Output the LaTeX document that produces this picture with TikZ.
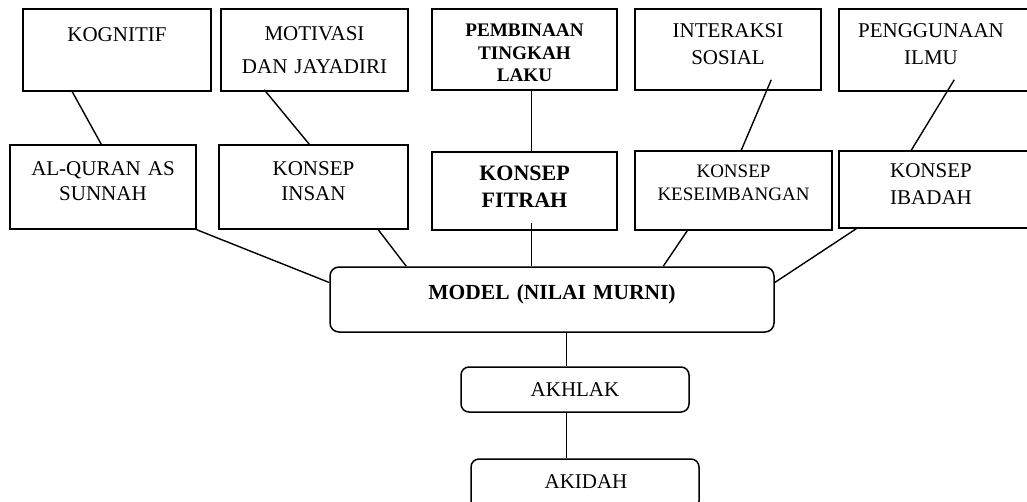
\documentclass[tikz,border=0pt]{standalone}
\usepackage{fontspec}
\setmainfont{Liberation Serif}
\begin{document}
\begin{tikzpicture}[x=1pt,y=-1pt,
  box/.style={draw, line width=1.5pt, inner sep=0pt, anchor=center},
  rbox/.style={box, rounded corners=9pt},
  txt/.style={anchor=base, inner sep=0pt, align=center, text width=190pt},
  reg/.style={font={\fontsize{21}{27}\selectfont}},
  link/.style={line width=1.4pt}]
\useasboundingbox (0,0) rectangle (1027,501);
\clip (0,0) rectangle (1027,501);
% top row
\node[box, minimum width=188pt, minimum height=82pt] (kog) at (117,50) {};
\node[box, minimum width=187pt, minimum height=82pt] (mot) at (314.5,50) {};
\node[box, minimum width=185pt, minimum height=81pt] (pem) at (524.5,49.5) {};
\node[box, minimum width=186pt, minimum height=81pt] (int) at (728,49.5) {};
\node[box, minimum width=196pt, minimum height=82pt] (peng) at (937,50) {};
% second row
\node[box, minimum width=186pt, minimum height=84pt] (alq) at (103,187) {};
\node[box, minimum width=189pt, minimum height=84pt] (ins) at (313.5,187) {};
\node[box, minimum width=185pt, minimum height=78pt] (fit) at (524.5,191) {};
\node[box, minimum width=197pt, minimum height=79pt] (kes) at (733.5,190.5) {};
\node[box, minimum width=196pt, minimum height=77pt] (iba) at (937,189.5) {};
% lower
\node[rbox, minimum width=444pt, minimum height=65pt] (model) at (552,299.5) {};
\node[rbox, rounded corners=8pt, minimum width=228pt, minimum height=45pt] (akh) at (575,389.5) {};
\node[rbox, rounded corners=8pt, minimum width=228pt, minimum height=50pt] (aki) at (585,484) {};
% texts
\node[txt, reg] (kogT) at (117,41) {KOGNITIF};
\node[txt, font={\fontsize{21}{32.6}\selectfont}] (motT) at (314.5,40.5) {MOTIVASI\\DAN JAYADIRI};
\node[txt, font={\fontsize{19.2}{22.5}\selectfont\bfseries}] (pemT) at (524.5,36.5) {PEMBINAAN\\TINGKAH\\LAKU};
\node[txt, reg] (intT) at (728,37) {INTERAKSI\\SOSIAL};
\node[txt, reg] (pengT) at (931,37) {PENGGUNAAN\\ILMU};
\node[txt, font={\fontsize{21}{25}\selectfont}] (alqT) at (103,175) {AL-QURAN AS\\SUNNAH};
\node[txt, font={\fontsize{21}{25}\selectfont}] (insT) at (313.5,175) {KONSEP\\INSAN};
\node[txt, font={\fontsize{22}{27}\selectfont\bfseries}] (fitT) at (524.5,180) {KONSEP\\FITRAH};
\node[txt, font={\fontsize{19}{23}\selectfont}] (kesT) at (733.5,177) {KONSEP\\KESEIMBANGAN};
\node[txt, reg] (ibaT) at (931,177) {KONSEP\\IBADAH};
\node[txt, font={\fontsize{21.5}{26}\selectfont\bfseries}, text width=400pt] (modelT) at (552,299) {MODEL (NILAI MURNI)};
\node[txt, reg] (akhT) at (575,396) {AKHLAK};
\node[txt, reg] (akiT) at (586,488) {AKIDAH};
% connectors
\draw[link] ([xshift=50pt]kog.south west) -- ([xshift=92pt]alq.north west);
\draw[link] ([xshift=44pt,yshift=2pt]mot.south west) -- ([xshift=91pt]ins.north west);
\draw[link] ([xshift=100pt]pem.south west) -- ([xshift=100pt]fit.north west);
\draw[link] ([xshift=137pt,yshift=11pt]int.south west) -- ([xshift=107pt]kes.north west);
\draw[link] ([xshift=116pt,yshift=12pt]peng.south west) -- ([xshift=73pt]iba.north west);
\draw[link] (alq.south east) -- ([yshift=17pt]model.west);
\draw[link] ([xshift=160pt]ins.south west) -- ([xshift=77pt]model.north west);
\draw[link] ([xshift=100pt,yshift=8pt]fit.south west) -- ([xshift=202pt]model.north west);
\draw[link] ([xshift=53pt]kes.south west) -- ([xshift=334pt]model.north west);
\draw[link] ([xshift=18pt]iba.south west) -- ([yshift=17pt]model.east);
\draw[link] ([xshift=237pt]model.south west) -- ([xshift=106pt]akh.north west);
\draw[link] ([xshift=106pt]akh.south west) -- ([xshift=96pt]aki.north west);
\end{tikzpicture}
\end{document}
